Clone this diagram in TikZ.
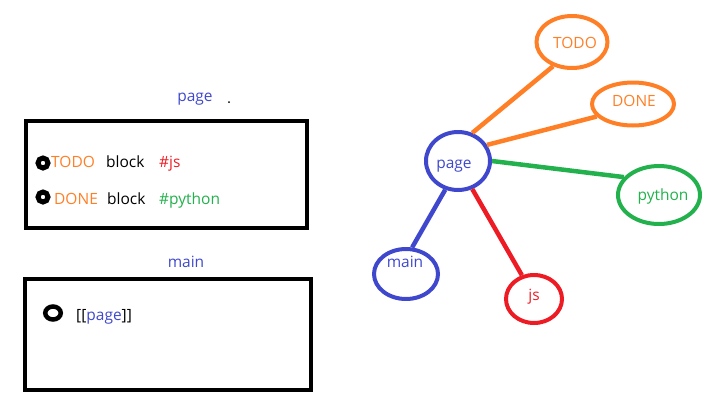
\documentclass[tikz,border=0pt]{standalone}
\usepackage{fontspec}
\setmainfont{Open Sans}
\usetikzlibrary{shapes.geometric}
\definecolor{porange}{HTML}{FF7F27}
\definecolor{pblue}{HTML}{3F48CC}
\definecolor{pgreen}{HTML}{22B14C}
\definecolor{pred}{HTML}{ED1C24}
\begin{document}
\begin{tikzpicture}[x=1pt,y=-1pt,
  txt/.style={inner sep=0pt, anchor=base, font=\fontsize{15.5}{18}\selectfont},
  txtw/.style={txt, anchor=base west},
  box/.style={draw, line width=4.5pt, inner sep=0pt},
  bullet/.style={draw, ellipse, line width=5pt, inner sep=0pt},
  bubble/.style={draw, ellipse, line width=4pt, inner sep=0pt},
  link/.style={line width=4.5pt}]
\useasboundingbox (0,0) rectangle (705,405);

% left: page block
\node[txt, text=pblue] (ptitle) at (195,101) {page};
\fill (229,102) circle (1pt);
\node[box, minimum width=281pt, minimum height=107pt] (pagebox) at (166.5,174.5) {};
\node[bullet, minimum width=10pt, minimum height=10pt] (b1) at (43,163) {};
\node[txtw, text=porange] (todo1) at (51,167) {TODO};
\node[txtw] (blk1) at (106,167) {block};
\node[txtw, text=pred] (js1) at (159,167) {\#js};
\node[bullet, minimum width=10pt, minimum height=10pt] (b2) at (43,197) {};
\node[txtw, text=porange] (done1) at (54,204) {DONE};
\node[txtw] (blk2) at (107,204) {block};
\node[txtw, text=pgreen] (py1) at (159,204) {\#python};

% left: main block
\node[txt, text=pblue] (mtitle) at (186,267) {main};
\node[box, minimum width=286pt, minimum height=111pt] (mainbox) at (168,334.5) {};
\node[bullet, line width=4.5pt, minimum width=15.5pt, minimum height=13pt] (b3) at (53,313) {};
\node[txtw] (ref) at (76,320) {[[\textcolor{pblue}{page}]]};

% right: graph
\node[bubble, draw=pblue, minimum width=64pt, minimum height=58pt] (page) at (458,161) {};
\node[bubble, draw=porange, minimum width=71pt, minimum height=52pt] (todo) at (572,42) {};
\node[bubble, draw=porange, minimum width=82pt, minimum height=43pt] (done) at (633,104) {};
\node[bubble, draw=pgreen, minimum width=82pt, minimum height=58pt] (python) at (659,195) {};
\node[bubble, draw=pblue, minimum width=64pt, minimum height=50pt] (main) at (406,274) {};
\node[bubble, draw=pred, minimum width=56pt, minimum height=48pt] (js) at (534,299) {};

\node[txt, text=pblue] (pagel) at (454,168) {page};
\node[txt, text=porange] (todol) at (575,48) {TODO};
\node[txt, text=porange] (donel) at (634,106) {DONE};
\node[txt, text=pgreen] (pythonl) at (663,200) {python};
\node[txt, text=pblue] (mainl) at (405,267) {main};
\node[txt, text=pred] (jsl) at (534,300) {js};

\draw[link, porange] (page.63) -- (todo.232);
\draw[link, porange] (page.29) -- (done.199);
\draw[link, pgreen] (page.0) -- (python.153);
\draw[link, pblue] (page.246) -- (main.77);
\draw[link, pred] (page.297) -- (js.117);
\end{tikzpicture}
\end{document}
